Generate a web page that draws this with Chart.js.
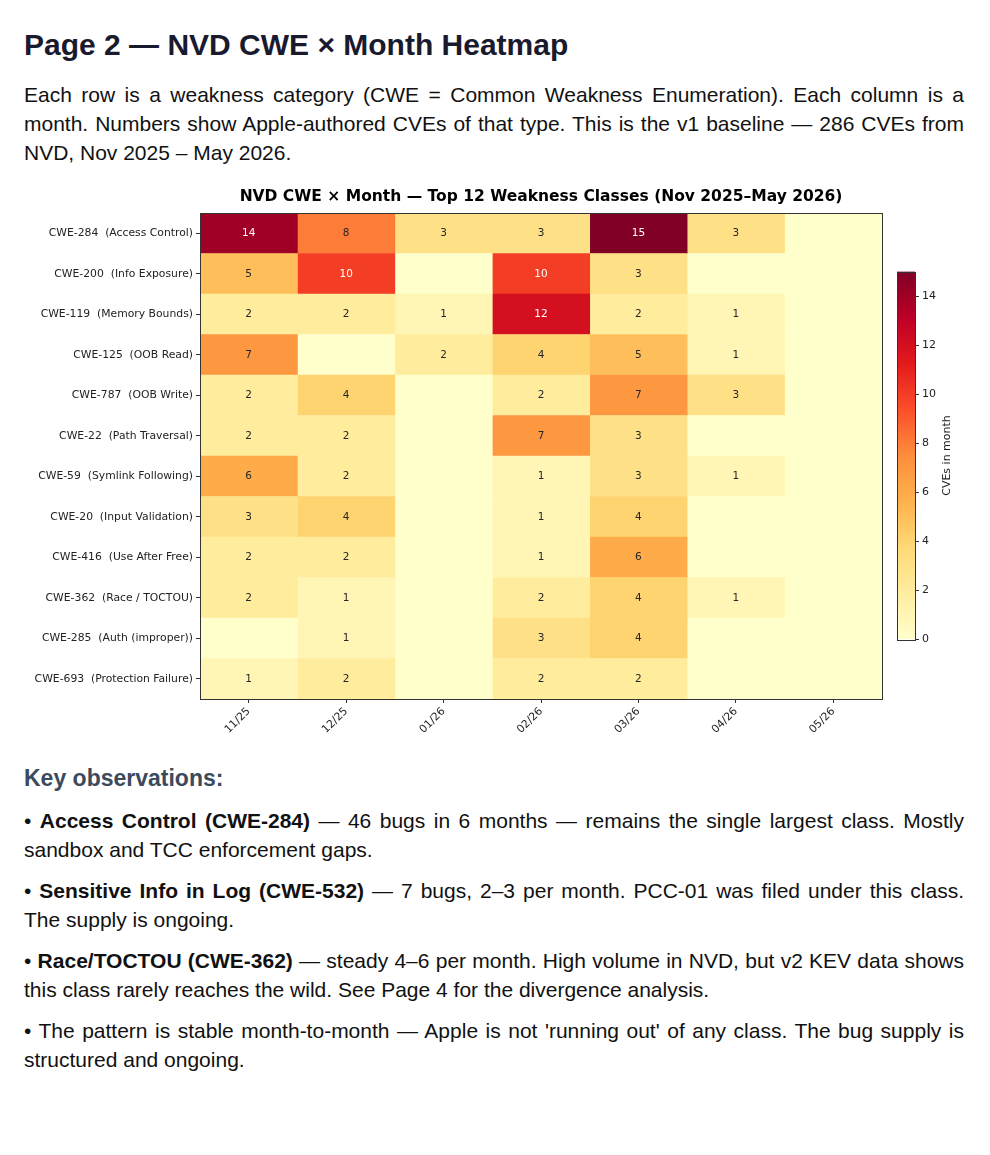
<!DOCTYPE html>
<html>
<head>
<meta charset="utf-8">
<script src="https://cdn.jsdelivr.net/npm/chart.js@4.4.1/dist/chart.umd.min.js"></script>
<style>
  body { margin: 0; background: #fff; font-family: "Liberation Sans", Arial, sans-serif; color: #111; }
  .page { position: relative; width: 990px; height: 1155px; }
  h1 { position: absolute; left: 24px; top: 27px; margin: 0; font-size: 30px; line-height: 36px; color: #1a1a2e; font-weight: bold; }
  .intro { position: absolute; left: 24px; top: 80px; width: 940px; margin: 0; font-size: 21px; line-height: 29px; text-align: justify; }
  .heat { position: absolute; left: 0; top: 183px; width: 890px; height: 580px; }
  .cbar { position: absolute; left: 890px; top: 262px; width: 100px; height: 387px; }
  .obs { position: absolute; left: 24px; top: 764px; width: 940px; }
  .obs h2 { margin: 0 0 14px 0; font-size: 23px; line-height: 28px; color: #3b4a5c; }
  .obs p { margin: 0 0 12px 0; font-size: 21px; line-height: 29px; text-align: justify; }
</style>
</head>
<body>
<div class="page">
  <h1>Page 2 — NVD CWE × Month Heatmap</h1>
  <p class="intro">Each row is a weakness category (CWE = Common Weakness Enumeration). Each column is a month. Numbers show Apple-authored CVEs of that type. This is the v1 baseline — 286 CVEs from NVD, Nov 2025 – May 2026.</p>
  <div class="heat"><canvas id="heat"></canvas></div>
  <div class="cbar"><canvas id="cbar"></canvas></div>
  <div class="obs">
    <h2>Key observations:</h2>
    <p>• <b>Access Control (CWE-284)</b> — 46 bugs in 6 months — remains the single largest class. Mostly sandbox and TCC enforcement gaps.</p>
    <p>• <b>Sensitive Info in Log (CWE-532)</b> — 7 bugs, 2–3 per month. PCC-01 was filed under this class. The supply is ongoing.</p>
    <p>• <b>Race/TOCTOU (CWE-362)</b> — steady 4–6 per month. High volume in NVD, but v2 KEV data shows this class rarely reaches the wild. See Page 4 for the divergence analysis.</p>
    <p>• The pattern is stable month-to-month — Apple is not 'running out' of any class. The bug supply is structured and ongoing.</p>
  </div>
</div>
<script>
// rows top to bottom
const cweLabels = [
  "CWE-284  (Access Control)",
  "CWE-200  (Info Exposure)",
  "CWE-119  (Memory Bounds)",
  "CWE-125  (OOB Read)",
  "CWE-787  (OOB Write)",
  "CWE-22  (Path Traversal)",
  "CWE-59  (Symlink Following)",
  "CWE-20  (Input Validation)",
  "CWE-416  (Use After Free)",
  "CWE-362  (Race / TOCTOU)",
  "CWE-285  (Auth (improper))",
  "CWE-693  (Protection Failure)"
];
const months = ["11/25", "12/25", "01/26", "02/26", "03/26", "04/26", "05/26"];

// counts per month, same order as cweLabels
const nov25 = [14, 5, 2, 7, 2, 2, 6, 3, 2, 2, 0, 1];
const dec25 = [8, 10, 2, 0, 4, 2, 2, 4, 2, 1, 1, 2];
const jan26 = [3, 0, 1, 2, 0, 0, 0, 0, 0, 0, 0, 0];
const feb26 = [3, 10, 12, 4, 2, 7, 1, 1, 1, 2, 3, 2];
const mar26 = [15, 3, 2, 5, 7, 3, 3, 4, 6, 4, 4, 2];
const apr26 = [3, 0, 1, 1, 3, 0, 1, 0, 0, 1, 0, 0];
const may26 = [0, 0, 0, 0, 0, 0, 0, 0, 0, 0, 0, 0];
const monthCounts = [nov25, dec25, jan26, feb26, mar26, apr26, may26];

const vmax = 15;
const cbarTicks = [0, 2, 4, 6, 8, 10, 12, 14];
const chartTitle = "NVD CWE × Month — Top 12 Weakness Classes (Nov 2025–May 2026)";

// matplotlib YlOrRd
const ylOrRd = ["#ffffcc", "#ffeda0", "#fed976", "#feb24c", "#fd8d3c", "#fc4e2a", "#e31a1c", "#bd0026", "#800026"];

const hexToRgb = (h) => [1, 3, 5].map((i) => parseInt(h.slice(i, i + 2), 16));

const colorFor = (v) => {
  const t = Math.max(0, Math.min(1, v / vmax)) * (ylOrRd.length - 1);
  const i = Math.min(Math.floor(t), ylOrRd.length - 2);
  const f = t - i;
  const a = hexToRgb(ylOrRd[i]);
  const b = hexToRgb(ylOrRd[i + 1]);
  const c = a.map((x, k) => Math.round(x + (b[k] - x) * f));
  return `rgb(${c[0]}, ${c[1]}, ${c[2]})`;
};

const frame = {
  id: "frame",
  afterDraw(chart) {
    const { ctx, chartArea: a } = chart;
    ctx.save();
    ctx.strokeStyle = "#333";
    ctx.lineWidth = 1;
    ctx.strokeRect(Math.round(a.left) + 0.5, Math.round(a.top) + 0.5, Math.round(a.right - a.left), Math.round(a.bottom - a.top));
    ctx.restore();
  },
};

// title centred over the plot area, like matplotlib
const plotTitle = {
  id: "plotTitle",
  afterDraw(chart) {
    const { ctx, chartArea: a } = chart;
    ctx.save();
    ctx.font = "bold 15.5px 'DejaVu Sans'";
    ctx.fillStyle = "#000";
    ctx.textAlign = "center";
    ctx.textBaseline = "alphabetic";
    ctx.fillText(chartTitle, (a.left + a.right) / 2, a.top - 12);
    ctx.restore();
  },
};

const cellLabels = {
  id: "cellLabels",
  afterDatasetsDraw(chart) {
    const ctx = chart.ctx;
    ctx.save();
    ctx.font = "10.5px 'DejaVu Sans'";
    ctx.textAlign = "center";
    ctx.textBaseline = "middle";
    chart.data.datasets.forEach((ds, d) => {
      chart.getDatasetMeta(d).data.forEach((el, r) => {
        const v = ds.counts[r];
        if (!v) return;
        const p = el.getProps(["x", "y", "base"], true);
        ctx.fillStyle = v >= 10 ? "#fff" : "#262626";
        ctx.fillText(String(v), (p.x + p.base) / 2, p.y + 0.5);
      });
    });
    ctx.restore();
  },
};

new Chart(document.getElementById("heat"), {
  type: "bar",
  data: {
    labels: cweLabels,
    datasets: monthCounts.map((counts, i) => ({
      label: months[i],
      counts: counts,
      data: counts.map(() => [i, i + 1]),
      backgroundColor: counts.map(colorFor),
      borderWidth: 0,
      barPercentage: 1,
      categoryPercentage: 1,
      grouped: false,
    })),
  },
  options: {
    indexAxis: "y",
    responsive: true,
    maintainAspectRatio: false,
    animation: false,
    layout: { padding: { left: 0, right: 8, top: 30, bottom: 0 } },
    plugins: {
      legend: { display: false },
      tooltip: { enabled: false },
      title: { display: false },
    },
    scales: {
      y: {
        type: "category",
        afterFit: (s) => { s.width = 200; },
        ticks: { color: "#222", font: { family: "DejaVu Sans", size: 10.8 }, padding: 3, autoSkip: false },
        grid: { drawOnChartArea: false, drawTicks: true, tickLength: 4, color: "#333", offset: false },
        border: { display: false },
      },
      x: {
        type: "linear",
        min: 0,
        max: months.length,
        afterBuildTicks: (s) => { s.ticks = months.map((m, i) => ({ value: i + 0.5 })); },
        afterFit: (s) => { s.height = 64; },
        ticks: {
          color: "#222",
          font: { family: "DejaVu Sans", size: 10.8 },
          minRotation: 45,
          maxRotation: 45,
          padding: 2,
          callback: (v, i) => months[i],
        },
        grid: { drawOnChartArea: false, drawTicks: true, tickLength: 4, color: "#333" },
        border: { display: false },
      },
    },
  },
  plugins: [cellLabels, frame, plotTitle],
});

const cbarTitle = {
  id: "cbarTitle",
  afterDraw(chart) {
    const { ctx, chartArea: a } = chart;
    ctx.save();
    ctx.translate(a.right + 32, (a.top + a.bottom) / 2);
    ctx.rotate(-Math.PI / 2);
    ctx.font = "11px 'DejaVu Sans'";
    ctx.fillStyle = "#222";
    ctx.textAlign = "center";
    ctx.textBaseline = "middle";
    ctx.fillText("CVEs in month", 0, 0);
    ctx.restore();
  },
};

new Chart(document.getElementById("cbar"), {
  type: "bar",
  data: {
    labels: [""],
    datasets: [{
      data: [[0, vmax]],
      backgroundColor: (c) => {
        const a = c.chart.chartArea;
        if (!a) return ylOrRd[0];
        const g = c.chart.ctx.createLinearGradient(0, a.bottom, 0, a.top);
        ylOrRd.forEach((col, i) => g.addColorStop(i / (ylOrRd.length - 1), col));
        return g;
      },
      borderWidth: 0,
      barPercentage: 1,
      categoryPercentage: 1,
    }],
  },
  options: {
    responsive: true,
    maintainAspectRatio: false,
    animation: false,
    layout: { padding: { left: 7, top: 5, bottom: 4, right: 0 } },
    plugins: { legend: { display: false }, tooltip: { enabled: false } },
    scales: {
      x: { display: false },
      y: {
        position: "right",
        min: 0,
        max: vmax,
        afterBuildTicks: (s) => { s.ticks = cbarTicks.map((v) => ({ value: v })); },
        afterFit: (s) => { s.width = 75; },
        ticks: { color: "#222", font: { family: "DejaVu Sans", size: 11 }, padding: 3 },
        grid: { drawOnChartArea: false, drawTicks: true, tickLength: 4, color: "#333" },
        border: { display: false },
      },
    },
  },
  plugins: [frame, cbarTitle],
});
</script>
</body>
</html>
